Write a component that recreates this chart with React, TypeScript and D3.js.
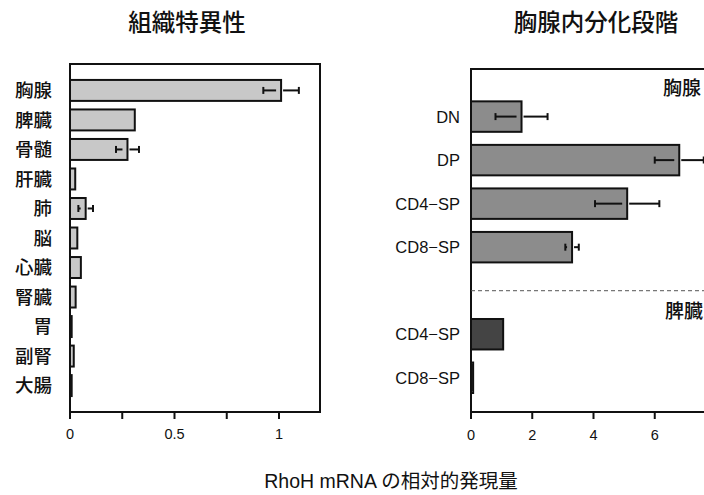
import * as d3 from 'd3';

const W = 704;
const H = 495;
const FONT = "'Liberation Sans', 'Noto Sans CJK JP', sans-serif";

// tissue panel
const tissues = ['胸腺', '脾臓', '骨髄', '肝臓', '肺', '脳', '心臓', '腎臓', '胃', '副腎', '大腸'];
const tissueValues = [1.01, 0.31, 0.275, 0.025, 0.075, 0.035, 0.052, 0.027, 0.008, 0.018, 0.008];
const tissueErrors = [0.085, 0, 0.055, 0, 0.035, 0, 0, 0, 0, 0, 0];
const tissueTicks = [0, 0.25, 0.5, 0.75, 1];
const tissueTickLabels = ['0', '', '0.5', '', '1'];

// differentiation panel
const stageKeys = ['thy-DN', 'thy-DP', 'thy-CD4', 'thy-CD8', 'gap', 'spl-CD4', 'spl-CD8'];
const stageLabels = ['DN', 'DP', 'CD4−SP', 'CD8−SP', '', 'CD4−SP', 'CD8−SP'];
const stageValues = [1.65, 6.8, 5.1, 3.3, 0, 1.05, 0.07];
const stageErrors = [0.85, 0.8, 1.05, 0.22, 0, 0, 0];
const stageOrgan = ['thymus', 'thymus', 'thymus', 'thymus', '', 'spleen', 'spleen'];
const stageTicks = [0, 2, 4, 6];

const organColor: Record<string, string> = { thymus: '#8c8c8c', spleen: '#444444' };

function ErrorBar({ x, y, v, e }: { x: d3.ScaleLinear<number, number>; y: number; v: number; e: number }) {
  if (!e) return null;
  const lo = x(v - e);
  const hi = x(v + e);
  const end = x(v);
  return (
    <g stroke="#111" strokeWidth={2}>
      <line x1={lo} x2={end - 5} y1={y} y2={y} />
      <line x1={end + 2} x2={hi} y1={y} y2={y} />
      <line x1={lo} x2={lo} y1={y - 3.5} y2={y + 3.5} />
      <line x1={hi} x2={hi} y1={y - 3.5} y2={y + 3.5} />
    </g>
  );
}

export default function App() {
  // left panel frame
  const L = { left: 70, right: 320, top: 64, bottom: 412 };
  const xL = d3.scaleLinear().domain([0, 1]).range([L.left, 279]);
  const yL = d3.scaleBand<string>().domain(tissues).range([L.top, L.bottom]).paddingInner(0.29).paddingOuter(0.54);

  // right panel frame (right edge runs off the page)
  const R = { left: 471, right: 716, top: 69, bottom: 412 };
  const xR = d3.scaleLinear().domain([0, 8]).range([R.left, R.right]);
  const yR = d3
    .scaleBand<string>()
    .domain(stageKeys)
    .range([R.top, R.bottom])
    .paddingInner(0.3)
    .paddingOuter(0.59)
    .align(0.63);

  const gapY = (yR('gap') ?? 0) + yR.bandwidth() / 2;

  return (
    <svg width={W} height={H} style={{ position: 'absolute', left: 0, top: 0, background: '#fff' }} fontFamily={FONT}>
      {/* titles */}
      <text x={187} y={31} textAnchor="middle" fontSize={23.5} fontWeight={500} fill="#111">組織特異性</text>
      <text x={596} y={31} textAnchor="middle" fontSize={23.5} fontWeight={500} fill="#111">胸腺内分化段階</text>

      {/* left panel */}
      <rect x={L.left} y={L.top} width={L.right - L.left} height={L.bottom - L.top} fill="none" stroke="#111" strokeWidth={2} />
      {tissues.map((t, i) => {
        const y0 = yL(t) ?? 0;
        const cy = y0 + yL.bandwidth() / 2;
        return (
          <g key={t}>
            <rect x={xL(0)} y={y0} width={Math.max(0.5, xL(tissueValues[i]) - xL(0))} height={yL.bandwidth()} fill="#c8c8c8" stroke="#111" strokeWidth={2} />
            <ErrorBar x={xL} y={cy} v={tissueValues[i]} e={tissueErrors[i]} />
            <text x={52} y={cy} dy="0.36em" textAnchor="end" fontSize={18.5} fontWeight={500} fill="#111">{t}</text>
          </g>
        );
      })}
      {tissueTicks.map((t, i) => (
        <g key={t}>
          <line x1={xL(t)} x2={xL(t)} y1={L.bottom} y2={L.bottom + 7} stroke="#111" strokeWidth={2} />
          <text x={xL(t)} y={L.bottom + 27} textAnchor="middle" fontSize={14.5} fill="#111">{tissueTickLabels[i]}</text>
        </g>
      ))}

      {/* right panel */}
      <path d={`M${R.right},${R.top}H${R.left}V${R.bottom}H${R.right}`} fill="none" stroke="#111" strokeWidth={2} />
      <line x1={R.left} x2={R.right} y1={gapY} y2={gapY} stroke="#555" strokeWidth={1} strokeDasharray="4,3" />
      {stageKeys.map((k, i) => {
        if (k === 'gap') return null;
        const y0 = yR(k) ?? 0;
        const cy = y0 + yR.bandwidth() / 2;
        return (
          <g key={k}>
            <rect x={xR(0)} y={y0} width={Math.max(0.5, xR(stageValues[i]) - xR(0))} height={yR.bandwidth()} fill={organColor[stageOrgan[i]]} stroke="#111" strokeWidth={2} />
            <ErrorBar x={xR} y={cy} v={stageValues[i]} e={stageErrors[i]} />
            <text x={460} y={cy} dy="0.36em" textAnchor="end" fontSize={16.5} fill="#111">{stageLabels[i]}</text>
          </g>
        );
      })}
      <text x={701} y={95} textAnchor="end" fontSize={19} fontWeight={500} fill="#111">胸腺</text>
      <text x={703} y={318} textAnchor="end" fontSize={19} fontWeight={500} fill="#111">脾臓</text>
      {stageTicks.map((t) => (
        <g key={t}>
          <line x1={xR(t)} x2={xR(t)} y1={R.bottom} y2={R.bottom + 7} stroke="#111" strokeWidth={2} />
          <text x={xR(t)} y={R.bottom + 28} textAnchor="middle" fontSize={14.5} fill="#111">{t}</text>
        </g>
      ))}

      {/* shared axis title */}
      <text x={391} y={488} textAnchor="middle" fontSize={19.5} fill="#111">RhoH mRNA の相対的発現量</text>
    </svg>
  );
}
